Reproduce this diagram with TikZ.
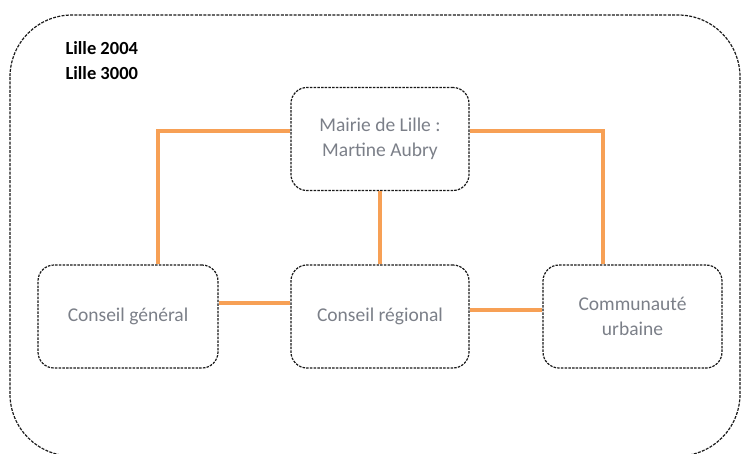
\documentclass[tikz,border=0pt]{standalone}
\usepackage{fontspec}
\setmainfont{Carlito}
\definecolor{lineorange}{HTML}{F7A055}
\definecolor{txtgray}{HTML}{7B7F88}
\begin{document}
\begin{tikzpicture}[x=1pt,y=-1pt,
  box/.style={draw=black!90, line width=1.2pt, dash pattern=on 2.5pt off 1.2pt, rounded corners=16pt,
    minimum width=178pt, minimum height=103pt, align=center, text=txtgray, font=\fontsize{19.5}{25}\selectfont},
  link/.style={draw=lineorange, line width=3.5pt},
  lbl/.style={anchor=west, font=\bfseries\fontsize{18.5}{22}\selectfont}]
\useasboundingbox (0,0) rectangle (741,453);
\draw[black!90, line width=1.2pt, dash pattern=on 3pt off 1.3pt, rounded corners=62pt]
  (10,15) rectangle (740,456);
\node[lbl] (l1) at (62,48) {Lille 2004};
\node[lbl] (l2) at (62,73) {Lille 3000};
\node[box] (mairie) at (380,139) {Mairie de Lille :\\Martine Aubry};
\node[box, minimum width=180pt] (cg) at (128,316.5) {Conseil général};
\node[box] (cr) at (380,316.5) {Conseil régional};
\node[box, minimum width=179pt] (cu) at (632.5,316.5) {Communauté\\urbaine};
\coordinate (mL) at (mairie.west |- 0,131);
\coordinate (mR) at (mairie.east |- 0,131);
\draw[link] (mL) -| (cg.north -| 158,0);
\draw[link] (mR) -| (cu.north -| 603,0);
\draw[link] (mairie.south) -- (cr.north);
\draw[link] (cg.east |- 0,303) -- (cr.west |- 0,303);
\draw[link] (cr.east |- 0,310) -- (cu.west |- 0,310);
\end{tikzpicture}
\end{document}
